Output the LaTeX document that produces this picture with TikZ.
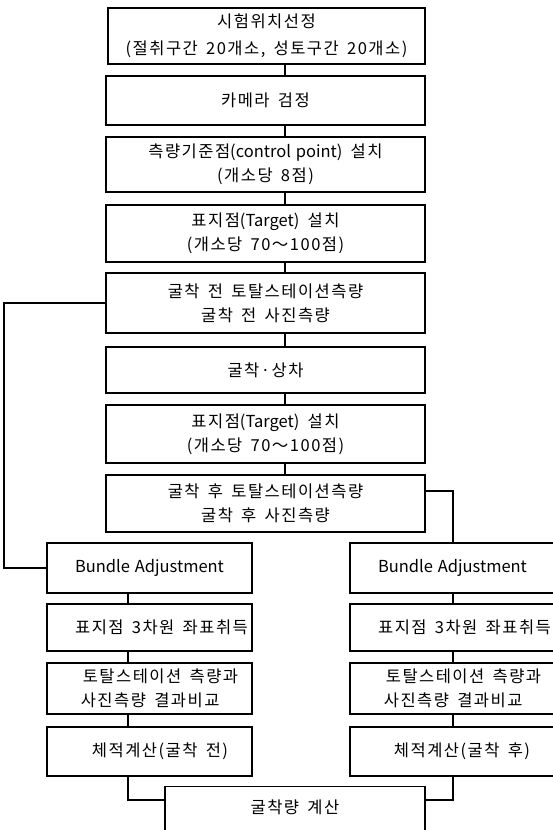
\documentclass[tikz,border=0pt]{standalone}
\usepackage{fontspec}
\setmainfont[LetterSpace=9,WordSpace=1.6]{Noto Sans CJK KR}
\newfontfamily\lat[WordSpace=1.3]{Noto Sans CJK KR}
\begin{document}
\begin{tikzpicture}[x=1bp,y=-1bp, line width=1.3bp,
  flowbox/.style={draw, inner sep=0pt, align=center, font=\fontsize{16.5bp}{24bp}\selectfont},
  topbox/.style={flowbox, minimum width=319bp},
  sidebox/.style={flowbox, minimum width=205bp}]
\useasboundingbox (0,0) rectangle (553,830);
\clip (0,0) rectangle (553,830);
\coordinate (cx) at (285,0);
\coordinate (lx) at (4,0);
\coordinate (lcx) at (128,0);
\coordinate (rcx) at (453,0);
\coordinate (ry) at (0,491);
\coordinate (jy) at (0,800);

\node[topbox, minimum width=317bp, minimum height=56bp] (b1) at (266.5,36) {시험위치선정\\[3bp](절취구간 20개소, 성토구간 20개소)};
\node[topbox, minimum height=49bp] (b2) at (265.5,100.5) {카메라 검정};
\node[topbox, minimum height=55bp] (b3) at (265.5,164.5) {측량기준점{\lat(control point)} 설치\\(개소당 8점)};
\node[topbox, minimum height=57bp] (b4) at (265.5,233.5) {표지점{\lat(Target)} 설치\\(개소당 70～100점)};
\node[topbox, minimum height=60bp] (b5) at (265.5,303) {굴착 전 토탈스테이션측량\\굴착 전 사진측량};
\node[topbox, minimum height=46bp] (b6) at (265.5,370) {굴착·상차};
\node[topbox, minimum height=58bp] (b7) at (265.5,434) {표지점{\lat(Target)} 설치\\(개소당 70～100점)};
\node[topbox, minimum height=57bp] (b8) at (265.5,503.5) {굴착 후 토탈스테이션측량\\굴착 후 사진측량};

\node[sidebox, minimum height=50bp] (baL) at (149.5,568) {\lat Bundle Adjustment};
\node[sidebox, minimum height=47bp] (tL) at (149.5,627.5) {\hspace*{24bp}표지점 3차원 좌표취득};
\node[sidebox, minimum height=51bp, align=left] (cL) at (149.5,688.5) {\hspace*{22bp}토탈스테이션 측량과\\\hspace*{20bp}사진측량 결과비교};
\node[sidebox, minimum height=49bp] (vL) at (149.5,751.5) {\hspace*{21bp}체적계산(굴착 전)};

\node[sidebox, minimum height=50bp] (baR) at (452.5,568) {\lat Bundle Adjustment};
\node[sidebox, minimum height=47bp] (tR) at (452.5,627.5) {\hspace*{24bp}표지점 3차원 좌표취득};
\node[sidebox, minimum height=51bp, align=left] (cR) at (452.5,688.5) {\hspace*{22bp}토탈스테이션 측량과\\\hspace*{20bp}사진측량 결과비교};
\node[sidebox, minimum height=49bp] (vR) at (452.5,751.5) {\hspace*{19bp}체적계산(굴착 후)};

\node[flowbox, anchor=north, minimum width=260bp, text height=16.6bp, text depth=60bp, inner ysep=10bp] (fin) at (295,786) {굴착량 계산};

\draw (b1.south -| cx) -- (b2.north -| cx);
\draw (b2.south -| cx) -- (b3.north -| cx);
\draw (b3.south -| cx) -- (b4.north -| cx);
\draw (b4.south -| cx) -- (b5.north -| cx);
\draw (b5.south -| cx) -- (b6.north -| cx);
\draw (b6.south -| cx) -- (b7.north -| cx);
\draw (b7.south -| cx) -- (b8.north -| cx);

\draw (b5.west) -| (lx |- baL.west) -- (baL.west);
\draw (b8.east |- ry) -| (baR.north -| rcx);

\draw (baL.south -| lcx) -- (tL.north -| lcx);
\draw (tL.south -| lcx) -- (cL.north -| lcx);
\draw (cL.south -| lcx) -- (vL.north -| lcx);
\draw (baR.south -| rcx) -- (tR.north -| rcx);
\draw (tR.south -| rcx) -- (cR.north -| rcx);
\draw (cR.south -| rcx) -- (vR.north -| rcx);

\draw (vL.south -| lcx) |- (fin.west |- jy);
\draw (vR.south -| rcx) |- (fin.east |- jy);
\end{tikzpicture}
\end{document}
